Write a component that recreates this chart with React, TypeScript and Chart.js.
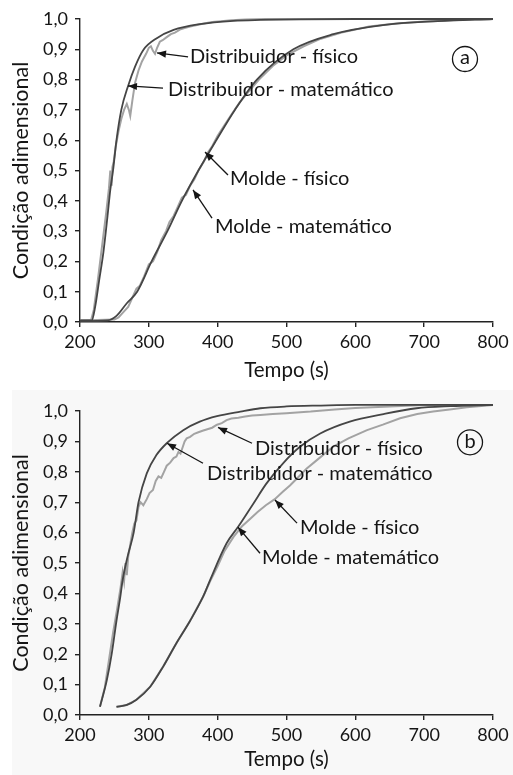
import React, { useEffect, useRef } from "react";
import { Chart, registerables } from "chart.js";
Chart.register(...registerables);

const FONT = "Lato, 'Noto Sans', sans-serif";

// ---------- axis ticks ----------
const xTickValues = [200, 300, 400, 500, 600, 700, 800];
const yTickLabels = ["0,0", "0,1", "0,2", "0,3", "0,4", "0,5", "0,6", "0,7", "0,8", "0,9", "1,0"];
const xTitle = "Tempo (s)";
const yTitle = "Condição adimensional";

// ---------- panel (a) ----------
const aDistMatT = [200, 217, 222, 228, 234, 240, 244, 248, 253, 260, 270, 280, 292, 311, 336, 374, 423, 462, 520, 600, 700, 800];
const aDistMatV = [0.005, 0.005, 0.05, 0.14, 0.23, 0.35, 0.436, 0.5, 0.6, 0.7, 0.78, 0.843, 0.898, 0.936, 0.964, 0.983, 0.994, 0.997, 0.999, 1.0, 1.0, 1.0];

const aDistFisT = [200, 216, 220, 226, 232, 238, 242, 244, 246, 247, 249, 252, 256, 260, 264, 268, 271, 273, 276, 280, 285, 290, 296, 300, 303, 306, 309, 312, 316, 320, 326, 332, 338, 345, 352, 360, 370, 380, 392, 405, 420, 440, 470, 520, 600, 700, 800];
const aDistFisV = [0.005, 0.005, 0.04, 0.14, 0.25, 0.36, 0.44, 0.5, 0.45, 0.51, 0.53, 0.58, 0.63, 0.67, 0.7, 0.72, 0.7, 0.68, 0.73, 0.79, 0.83, 0.86, 0.885, 0.905, 0.91, 0.895, 0.885, 0.905, 0.925, 0.93, 0.94, 0.95, 0.955, 0.965, 0.97, 0.975, 0.98, 0.985, 0.99, 0.993, 0.996, 0.998, 1.0, 1.0, 1.0, 1.0, 1.0];

const aMoldMatT = [200, 240, 253, 268, 283, 304, 327, 348, 372, 398, 425, 457, 510, 568, 640, 720, 800];
const aMoldMatV = [0.003, 0.005, 0.02, 0.062, 0.1, 0.2, 0.3, 0.4, 0.5, 0.6, 0.7, 0.8, 0.9, 0.95, 0.98, 0.993, 1.0];

const aMoldFisT = [200, 250, 256, 262, 270, 276, 282, 287, 293, 300, 306, 312, 318, 325, 330, 336, 342, 348, 354, 360, 366, 372, 380, 386, 392, 400, 410, 420, 432, 445, 460, 480, 500, 525, 550, 580, 620, 660, 700, 750, 800];
const aMoldFisV = [0.005, 0.008, 0.015, 0.03, 0.05, 0.08, 0.11, 0.12, 0.15, 0.19, 0.2, 0.23, 0.27, 0.3, 0.33, 0.35, 0.38, 0.41, 0.42, 0.45, 0.47, 0.5, 0.53, 0.56, 0.58, 0.615, 0.65, 0.685, 0.725, 0.76, 0.8, 0.845, 0.88, 0.91, 0.935, 0.955, 0.975, 0.985, 0.992, 0.997, 1.0];

// ---------- panel (b) ----------
const bDistMatT = [229, 239, 246, 253, 258, 262, 269, 278, 285, 297, 311, 326, 350, 374, 399, 433, 462, 500, 550, 600, 700, 800];
const bDistMatV = [0.027, 0.115, 0.2, 0.31, 0.38, 0.444, 0.52, 0.6, 0.7, 0.795, 0.855, 0.894, 0.937, 0.965, 0.983, 0.998, 1.009, 1.015, 1.018, 1.02, 1.02, 1.02];

const bDistFisT = [229, 236, 242, 248, 254, 259, 262, 264, 266, 268, 270, 273, 276, 279, 282, 285, 288, 292, 297, 301, 306, 310, 314, 318, 322, 326, 331, 336, 340, 343, 346, 349, 352, 355, 360, 366, 372, 378, 385, 392, 399, 406, 413, 420, 430, 440, 450, 462, 480, 500, 535, 570, 600, 650, 700, 800];
const bDistFisV = [0.027, 0.09, 0.18, 0.27, 0.35, 0.42, 0.47, 0.44, 0.5, 0.46, 0.52, 0.56, 0.6, 0.63, 0.64, 0.685, 0.7, 0.69, 0.71, 0.73, 0.74, 0.77, 0.785, 0.78, 0.8, 0.82, 0.83, 0.845, 0.85, 0.865, 0.86, 0.88, 0.9, 0.91, 0.915, 0.925, 0.93, 0.935, 0.94, 0.945, 0.955, 0.96, 0.97, 0.975, 0.978, 0.982, 0.985, 0.987, 0.99, 0.993, 0.998, 1.005, 1.01, 1.015, 1.02, 1.02];

const bMoldMatT = [253, 268, 282, 302, 321, 340, 360, 379, 389, 413, 430, 452, 471, 495, 520, 549, 592, 641, 689, 738, 800];
const bMoldMatV = [0.027, 0.033, 0.05, 0.093, 0.16, 0.236, 0.31, 0.39, 0.444, 0.565, 0.62, 0.696, 0.762, 0.828, 0.883, 0.926, 0.965, 0.99, 1.009, 1.016, 1.02];

const bMoldFisT = [253, 268, 282, 302, 321, 340, 360, 379, 389, 400, 410, 423, 435, 447, 458, 470, 483, 495, 505, 517, 529, 545, 568, 590, 617, 640, 665, 690, 713, 740, 762, 800];
const bMoldFisV = [0.027, 0.033, 0.05, 0.093, 0.16, 0.236, 0.31, 0.39, 0.44, 0.49, 0.54, 0.586, 0.62, 0.645, 0.668, 0.69, 0.71, 0.735, 0.755, 0.782, 0.81, 0.84, 0.883, 0.91, 0.937, 0.955, 0.976, 0.99, 0.998, 1.006, 1.012, 1.02];

// ---------- annotation labels (data coordinates) ----------
const aLabels = [
  { text: "Distribuidor - físico", pos: [359.8, 0.875], tail: [357, 0.875], head: [311.9, 0.888] },
  { text: "Distribuidor - matemático", pos: [327.8, 0.766], tail: [320.6, 0.772], head: [269.7, 0.779] },
  { text: "Molde - físico", pos: [417.9, 0.475], tail: [415, 0.485], head: [381.6, 0.561] },
  { text: "Molde - matemático", pos: [396, 0.314], tail: [391.8, 0.343], head: [364.2, 0.436] },
];
const aBadge = { text: "a", pos: [759.3, 0.868] };

const bLabels = [
  { text: "Distribuidor - físico", pos: [454.2, 0.877], tail: [449.9, 0.894], head: [400.5, 0.946] },
  { text: "Distribuidor - matemático", pos: [384.5, 0.795], tail: [378.7, 0.828], head: [326.4, 0.894] },
  { text: "Molde - físico", pos: [519.6, 0.618], tail: [515.3, 0.631], head: [483.3, 0.707] },
  { text: "Molde - matemático", pos: [464.4, 0.519], tail: [461.5, 0.532], head: [429.5, 0.618] },
];
const bBadge = { text: "b", pos: [766.6, 0.897] };

const MAT_COLOR = "#454545";
const FIS_COLOR = "#a3a3a3";
const INK = "#151515";

function pts(t: number[], v: number[]) {
  return t.map((x, i) => ({ x, y: v[i] }));
}

const labelPlugin = {
  id: "arrowLabels",
  afterDatasetsDraw(chart: any, _args: any, opts: any) {
    const { ctx } = chart;
    const xs = chart.scales.x;
    const ys = chart.scales.y;
    const px = (p: number[]) => [xs.getPixelForValue(p[0]), ys.getPixelForValue(p[1])];
    ctx.save();
    ctx.fillStyle = INK;
    ctx.strokeStyle = INK;
    ctx.font = `20px ${FONT}`;
    for (const it of opts.items || []) {
      const [tx, ty] = px(it.tail);
      const [hx, hy] = px(it.head);
      ctx.lineWidth = 1.3;
      ctx.beginPath();
      ctx.moveTo(tx, ty);
      ctx.lineTo(hx, hy);
      ctx.stroke();
      const ang = Math.atan2(hy - ty, hx - tx);
      const L = 9;
      const W = 3.6;
      const c = Math.cos(ang);
      const s = Math.sin(ang);
      ctx.beginPath();
      ctx.moveTo(hx, hy);
      ctx.lineTo(hx - L * c + W * s, hy - L * s - W * c);
      ctx.lineTo(hx - L * c - W * s, hy - L * s + W * c);
      ctx.closePath();
      ctx.fill();
      const [lx, ly] = px(it.pos);
      ctx.textAlign = "left";
      ctx.textBaseline = "middle";
      ctx.fillText(it.text, lx, ly);
    }
    if (opts.badge) {
      const [bx, by] = px(opts.badge.pos);
      ctx.lineWidth = 1.3;
      ctx.beginPath();
      ctx.arc(bx, by, 12.5, 0, Math.PI * 2);
      ctx.stroke();
      ctx.textAlign = "center";
      ctx.textBaseline = "middle";
      ctx.fillText(opts.badge.text, bx, by - 1);
    }
    ctx.restore();
  },
};

type PanelProps = {
  top: number;
  height: number;
  padTop: number;
  plotBottom: number;
  titlePadBottom: number;
  series: { t: number[]; v: number[]; mat: boolean }[];
  labels: any[];
  badge: any;
};

function Panel(props: PanelProps) {
  const ref = useRef<HTMLCanvasElement | null>(null);
  useEffect(() => {
    const canvas = ref.current;
    if (!canvas) return;
    const axisH = props.height - props.plotBottom;
    const datasets = props.series.map((s) => ({
      data: pts(s.t, s.v),
      borderColor: s.mat ? MAT_COLOR : FIS_COLOR,
      borderWidth: s.mat ? 1.8 : 2,
      pointRadius: 0,
      tension: 0,
      cubicInterpolationMode: s.mat ? "monotone" : "default",
      clip: false,
      fill: false,
    }));
    const tickFont = { family: FONT, size: 18 };
    const chart = new Chart(canvas, {
      type: "line",
      data: { datasets: datasets as any },
      plugins: [labelPlugin as any],
      options: {
        animation: false,
        responsive: false,
        maintainAspectRatio: false,
        layout: { padding: { top: props.padTop, right: 20, left: 0, bottom: 0 } },
        plugins: {
          legend: { display: false },
          tooltip: { enabled: false },
          arrowLabels: { items: props.labels, badge: props.badge },
        } as any,
        scales: {
          x: {
            type: "linear",
            min: 200,
            max: 800,
            afterBuildTicks: (sc: any) => {
              sc.ticks = xTickValues.map((value) => ({ value }));
            },
            afterFit: (sc: any) => {
              sc.height = axisH;
            },
            ticks: { font: tickFont, color: INK, padding: 4, maxRotation: 0 },
            grid: { drawOnChartArea: false, drawTicks: true, tickLength: 5, color: "#222", lineWidth: 1.4 },
            border: { display: true, color: "#222", width: 1.4 },
            title: { display: true, text: xTitle, font: { family: FONT, size: 20.5 }, color: INK, padding: { top: 0, bottom: props.titlePadBottom } },
          },
          y: {
            type: "linear",
            min: 0,
            max: 1,
            afterBuildTicks: (sc: any) => {
              sc.ticks = yTickLabels.map((_, i) => ({ value: i / 10 }));
            },
            afterFit: (sc: any) => {
              sc.width = 80;
            },
            ticks: {
              font: tickFont,
              color: INK,
              padding: 7,
              callback: (_v: any, i: number) => yTickLabels[i],
            },
            grid: { drawOnChartArea: false, drawTicks: true, tickLength: 5, color: "#222", lineWidth: 1.4 },
            border: { display: true, color: "#222", width: 1.4 },
            title: { display: true, text: yTitle, font: { family: FONT, size: 21.5 }, color: INK, padding: { top: 8, bottom: 0 } },
          },
        },
      } as any,
    });
    return () => chart.destroy();
  }, []);
  return (
    <div style={{ position: "absolute", left: 0, top: props.top, width: 513, height: props.height }}>
      <canvas ref={ref} width={513} height={props.height} style={{ width: 513, height: props.height, display: "block" }} />
    </div>
  );
}

export default function App() {
  return (
    <div style={{ position: "fixed", left: 0, top: 0, width: 513, height: 775, background: "#ffffff", overflow: "hidden" }}>
      <div style={{ position: "absolute", left: 12, top: 390, right: 0, bottom: 0, background: "#f8f8f8" }} />
      <Panel
        top={0}
        height={385}
        padTop={19}
        plotBottom={322}
        titlePadBottom={2}
        series={[
          { t: aDistMatT, v: aDistMatV, mat: true },
          { t: aMoldMatT, v: aMoldMatV, mat: true },
          { t: aDistFisT, v: aDistFisV, mat: false },
          { t: aMoldFisT, v: aMoldFisV, mat: false },
        ]}
        labels={aLabels}
        badge={aBadge}
      />
      <Panel
        top={385}
        height={390}
        padTop={26}
        plotBottom={330}
        titlePadBottom={3}
        series={[
          { t: bDistMatT, v: bDistMatV, mat: true },
          { t: bMoldMatT, v: bMoldMatV, mat: true },
          { t: bDistFisT, v: bDistFisV, mat: false },
          { t: bMoldFisT, v: bMoldFisV, mat: false },
        ]}
        labels={bLabels}
        badge={bBadge}
      />
    </div>
  );
}
